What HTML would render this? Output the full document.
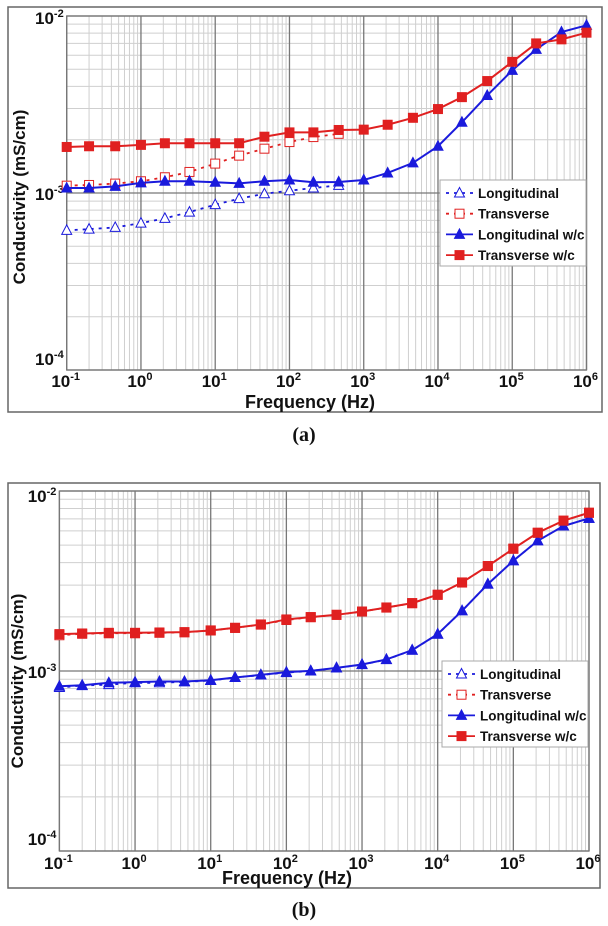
<!DOCTYPE html>
<html><head><meta charset="utf-8"><style>
html,body{margin:0;padding:0;background:#fff;}
svg{display:block;font-family:"Liberation Sans",Arial,sans-serif;}
</style></head><body>
<svg id="fig" width="608" height="926" viewBox="0 0 608 926"></svg>
<script>
const freqs=[0.1,0.2,0.45,1,2.1,4.5,10,21,46,100,210,460,1000,2100,4600,1e4,2.1e4,4.6e4,1e5,2.1e5,4.6e5,1e6];
const xTickLabels=["-1","0","1","2","3","4","5","6"];
const yTickLabels=["-2","-3","-4"];
// Panel (a)
const aLong=[6.15e-4,6.25e-4,6.39e-4,6.76e-4,7.19e-4,7.8e-4,8.59e-4,9.29e-4,9.9e-4,1.03e-3,1.067e-3,1.105e-3];
const aTrans=[1.10e-3,1.11e-3,1.13e-3,1.165e-3,1.227e-3,1.315e-3,1.466e-3,1.626e-3,1.78e-3,1.94e-3,2.07e-3,2.16e-3];
const aLongWC=[1.067e-3,1.067e-3,1.09e-3,1.14e-3,1.165e-3,1.165e-3,1.15e-3,1.134e-3,1.165e-3,1.185e-3,1.15e-3,1.154e-3,1.185e-3,1.298e-3,1.479e-3,1.837e-3,2.51e-3,3.556e-3,4.93e-3,6.48e-3,8.12e-3,8.86e-3];
const aTransWC=[1.82e-3,1.837e-3,1.837e-3,1.87e-3,1.91e-3,1.91e-3,1.91e-3,1.91e-3,2.08e-3,2.20e-3,2.20e-3,2.27e-3,2.28e-3,2.43e-3,2.66e-3,2.98e-3,3.48e-3,4.29e-3,5.51e-3,7.0e-3,7.38e-3,8.05e-3];
// Panel (b)
const bLong=[8.1e-4,8.3e-4,8.4e-4,8.6e-4,8.6e-4,8.7e-4,8.85e-4,9.2e-4,9.5e-4,9.8e-4,1.0e-3,1.04e-3,1.085e-3,1.157e-3,1.305e-3,1.6e-3,2.16e-3,3.04e-3,4.1e-3,5.29e-3,6.39e-3,7.05e-3];
const bTrans=[1.58e-3,1.61e-3,1.62e-3,1.62e-3,1.63e-3,1.64e-3,1.68e-3,1.735e-3,1.81e-3,1.92e-3,1.99e-3,2.05e-3,2.14e-3,2.25e-3,2.38e-3,2.65e-3,3.1e-3,3.83e-3,4.78e-3,5.86e-3,6.84e-3,7.57e-3];
const bLongWC=[8.23e-4,8.34e-4,8.60e-4,8.67e-4,8.74e-4,8.74e-4,8.89e-4,9.2e-4,9.52e-4,9.85e-4,1.002e-3,1.041e-3,1.087e-3,1.159e-3,1.306e-3,1.603e-3,2.16e-3,3.04e-3,4.10e-3,5.29e-3,6.39e-3,7.05e-3];
const bTransWC=[1.603e-3,1.616e-3,1.63e-3,1.63e-3,1.637e-3,1.644e-3,1.68e-3,1.738e-3,1.814e-3,1.934e-3,1.993e-3,2.052e-3,2.14e-3,2.254e-3,2.383e-3,2.652e-3,3.105e-3,3.83e-3,4.78e-3,5.86e-3,6.84e-3,7.57e-3];

const NS='http://www.w3.org/2000/svg';
const svg=document.getElementById('fig');
function mk(tag,attrs,parent){const e=document.createElementNS(NS,tag);for(const k in attrs)e.setAttribute(k,attrs[k]);(parent||svg).appendChild(e);return e;}

function marker(g,type,x,y,color){
  let e;
  if(type==='tri'||type==='triOpen'){
    e=mk('polygon',{points:`${x},${y-5.5} ${x-5},${y+4} ${x+5},${y+4}`,fill:type==='tri'?color:'#fff',stroke:color,'stroke-width':1},g);
  }else{
    e=mk('rect',{x:x-4.5,y:y-4.5,width:9,height:9,fill:type==='sq'?color:'#fff',stroke:color,'stroke-width':1},g);
  }
  return e;
}

function drawPanel(p){
  const g=mk('g',{});
  
  
  const fr=mk('rect',{x:p.fx,y:p.fy,width:p.fw,height:p.fh,fill:'#fff',stroke:'#666','stroke-width':1.5},g);
  
  
  const L=p.l,R=p.r,T=p.t,B=p.b;
  const xs=f=>L+(Math.log10(f)+1)/7*(R-L);
  const ys=v=>T+(-2-Math.log10(v))/2*(B-T);
  for(let d=-1;d<6;d++)for(let m=2;m<10;m++){const x=xs(m*Math.pow(10,d));mk('line',{x1:x,x2:x,y1:T,y2:B,stroke:'#cfcfcf','stroke-width':1},g);}
  for(let d=-4;d<-2;d++)for(let m=2;m<10;m++){const y=ys(m*Math.pow(10,d));mk('line',{x1:L,x2:R,y1:y,y2:y,stroke:'#cfcfcf','stroke-width':1},g);}
  for(let d=-1;d<=6;d++){const x=xs(Math.pow(10,d));mk('line',{x1:x,x2:x,y1:T,y2:B,stroke:'#777','stroke-width':1.3},g);}
  for(let d=-4;d<=-2;d++){const y=ys(Math.pow(10,d));mk('line',{x1:L,x2:R,y1:y,y2:y,stroke:'#777','stroke-width':1.3},g);}
  mk('rect',{x:L,y:T,width:R-L,height:B-T,fill:'none',stroke:'#777','stroke-width':1.3},g);
  xTickLabels.forEach((s,i)=>{
    const t=mk('text',{x:xs(Math.pow(10,i-1))-1,y:p.tickY,'text-anchor':'middle','font-size':17,'font-weight':'bold',fill:'#111'},g);
    
    
    t.textContent='10';
    const sp=mk('tspan',{dy:-7,'font-size':11},t);sp.textContent=s;
  });
  const yOff=[p.yOffTop,7,p.yOffBot];
  yTickLabels.forEach((s,i)=>{
    const t=mk('text',{x:L-3,y:ys(Math.pow(10,-2-i))+yOff[i],'text-anchor':'end','font-size':17,'font-weight':'bold',fill:'#111'},g);
    
    
    t.textContent='10';
    const sp=mk('tspan',{dy:-7,'font-size':11},t);sp.textContent=s;
  });
  const xt=mk('text',{x:p.xtX,y:p.xtY,'text-anchor':'middle','font-size':18,'font-weight':'bold',fill:'#111'},g);
  
  
  xt.textContent='Frequency (Hz)';
  const yt=mk('text',{x:0,y:0,transform:`translate(${p.ytX},${p.ytY}) rotate(-90)`,'text-anchor':'middle','font-size':17,'font-weight':'bold',fill:'#111'},g);
  
  
  yt.textContent='Conductivity  (mS/cm)';
  p.series.forEach(s=>{
    const sg=mk('g',{},g);
    
    
    const pts=s.data.map((v,i)=>xs(freqs[i])+','+ys(v)).join(' ');
    mk('polyline',{points:pts,fill:'none',stroke:s.color,'stroke-width':s.dash?1.8:2,'stroke-dasharray':s.dash?'3,5':'none'},sg);
    s.data.forEach((v,i)=>{const m=marker(sg,s.mk,xs(freqs[i]),ys(v),s.color);
      
      });
  });
  const lg=mk('g',{},g);
  
  
  mk('rect',{x:p.lx,y:p.ly,width:146,height:86,fill:'#fff',stroke:'#aaa','stroke-width':1},lg);
  p.series.forEach((s,i)=>{
    const ry=p.ly+13+i*20.7;
    const e=mk('g',{},lg);
    
    
    mk('line',{x1:p.lx+6,x2:p.lx+33,y1:ry,y2:ry,stroke:s.color,'stroke-width':1.8,'stroke-dasharray':s.dash?'3,5':'none'},e);
    marker(e,s.mk,p.lx+19.5,ry,s.color);
    const t=mk('text',{x:p.lx+38,y:ry+5,'font-size':13.5,'font-weight':'bold',fill:'#111'},e);
    t.textContent=s.label;
  });
  const cap=mk('text',{x:304,y:p.capY,'text-anchor':'middle','font-size':20,'font-weight':'bold','font-family':'Liberation Serif,serif',fill:'#111'});
  
  
  cap.textContent=p.cap;
}

drawPanel({name:'chart-a',fx:8,fy:7,fw:594,fh:405,l:66.7,r:586.5,t:16,b:370,tickY:387,xtX:310,xtY:408,ytX:25,ytY:197,yOffTop:8,yOffBot:-5,lx:440,ly:180,capY:441,cap:'(a)',
  series:[
    {id:'series-longitudinal',label:'Longitudinal',color:'#1a1adc',mk:'triOpen',dash:true,data:aLong},
    {id:'series-transverse',label:'Transverse',color:'#e02020',mk:'sqOpen',dash:true,data:aTrans},
    {id:'series-longitudinal-wc',label:'Longitudinal w/c',color:'#1a1adc',mk:'tri',dash:false,data:aLongWC},
    {id:'series-transverse-wc',label:'Transverse w/c',color:'#e02020',mk:'sq',dash:false,data:aTransWC}
  ]});
drawPanel({name:'chart-b',fx:8,fy:483,fw:592,fh:405,l:59.4,r:589,t:491,b:851,tickY:869,xtX:287,xtY:884,ytX:23,ytY:681,yOffTop:11,yOffBot:-6,lx:442,ly:661,capY:916,cap:'(b)',
  series:[
    {id:'series-longitudinal',label:'Longitudinal',color:'#1a1adc',mk:'triOpen',dash:true,data:bLong},
    {id:'series-transverse',label:'Transverse',color:'#e02020',mk:'sqOpen',dash:true,data:bTrans},
    {id:'series-longitudinal-wc',label:'Longitudinal w/c',color:'#1a1adc',mk:'tri',dash:false,data:bLongWC},
    {id:'series-transverse-wc',label:'Transverse w/c',color:'#e02020',mk:'sq',dash:false,data:bTransWC}
  ]});
</script>
</body></html>
